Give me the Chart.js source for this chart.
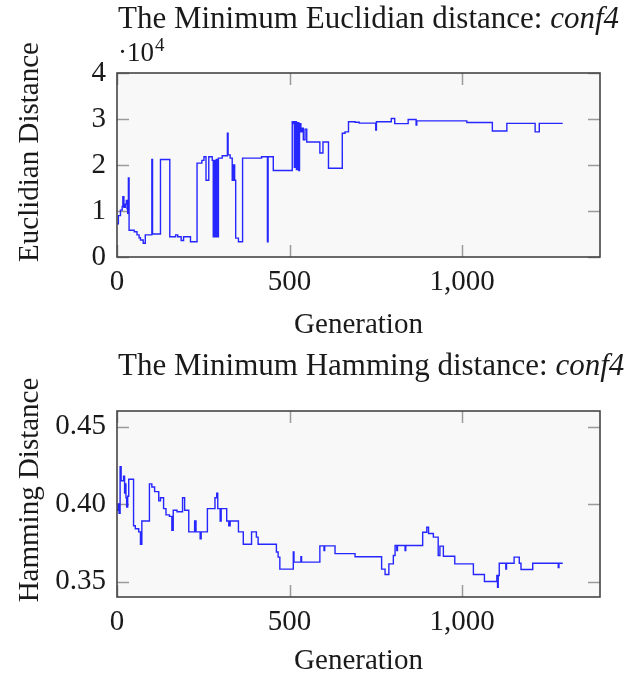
<!DOCTYPE html>
<html>
<head>
<meta charset="utf-8">
<script src="https://cdn.jsdelivr.net/npm/chart.js@4.4.1/dist/chart.umd.min.js"></script>
<style>
  html, body { margin: 0; padding: 0; background: #ffffff; }
  canvas { position: absolute; left: 0; }
  #eucCanvas { top: 0; }
  #hamCanvas { top: 340px; }
</style>
</head>
<body>
<canvas id="eucCanvas" width="640" height="340"></canvas>
<canvas id="hamCanvas" width="640" height="339"></canvas>
<script>
// Minimum Euclidian distance per generation (step series: value holds from each generation on)
const eucGen = [0, 4, 10, 15, 17, 20, 24, 27, 29, 31, 33, 35, 50, 58, 64, 68, 76, 82, 101, 103,
  126, 153, 170, 176, 186, 193, 213, 232, 246, 252, 258, 266, 276, 279, 282, 284, 288, 290, 294, 305,
  320, 322, 328, 334, 338, 341, 344, 352, 364, 419, 436, 438, 453, 508, 512, 514, 516, 520, 523, 527,
  529, 533, 537, 540, 545, 550, 588, 597, 613, 653, 661, 671, 690, 702, 750, 752, 795, 805, 844, 867,
  869, 1014, 1088, 1130, 1212, 1224, 1292];
const eucVal = [7200, 9000, 10200, 11000, 13100, 10800, 11500, 12300, 10500, 9500, 17200, 5800, 5500, 4800, 4200, 3700, 3000, 4800, 21200, 5000,
  21200, 4400, 4800, 4400, 3600, 4400, 3300, 20400, 21000, 21800, 16700, 21800, 21000, 4400, 21000, 4400, 21200, 4400, 21500, 22000,
  26900, 22200, 21500, 16700, 20000, 16700, 4100, 3300, 21500, 21800, 3300, 21800, 18800, 29400, 29000, 19500, 29400, 19000, 29200, 18800,
  29000, 27200, 28000, 25500, 27800, 25000, 22600, 25000, 19300, 26900, 27200, 29400, 29300, 29100, 27600, 29400, 30100, 29000, 29900, 28700,
  29600, 29250, 27400, 29050, 27200, 29050, 29050];

// Minimum Hamming distance per generation
const hamGen = [0, 3, 6, 9, 12, 19, 22, 24, 26, 28, 31, 34, 48, 53, 63, 68, 72, 94, 101, 109,
  121, 126, 135, 142, 152, 159, 163, 174, 190, 196, 208, 225, 229, 241, 244, 262, 284, 289, 292, 299,
  302, 318, 324, 328, 352, 366, 390, 404, 409, 462, 467, 472, 511, 513, 533, 535, 588, 600, 602, 632,
  690, 767, 777, 788, 801, 806, 811, 813, 835, 837, 886, 898, 903, 917, 931, 936, 946, 979, 1033, 1065,
  1101, 1103, 1105, 1108, 1127, 1129, 1151, 1166, 1171, 1205, 1279, 1281, 1292];
const hamVal = [0.396, 0.400, 0.394, 0.424, 0.415, 0.418, 0.407, 0.413, 0.404, 0.398, 0.405, 0.416, 0.386, 0.384, 0.382, 0.374, 0.389, 0.413, 0.411, 0.408,
  0.402, 0.404, 0.397, 0.393, 0.392, 0.383, 0.396, 0.395, 0.404, 0.396, 0.382, 0.389, 0.382, 0.3775, 0.382, 0.397, 0.404, 0.407, 0.397, 0.389,
  0.397, 0.389, 0.386, 0.389, 0.382, 0.374, 0.382, 0.3786, 0.374, 0.369, 0.3657, 0.358, 0.369, 0.3625, 0.366, 0.3625, 0.373, 0.370, 0.373, 0.368,
  0.366, 0.358, 0.3545, 0.3614, 0.3668, 0.3732, 0.370, 0.3732, 0.370, 0.3732, 0.3818, 0.385, 0.381, 0.3786, 0.3668, 0.3728, 0.3663, 0.3614, 0.3545, 0.350,
  0.3539, 0.3463, 0.3539, 0.3618, 0.358, 0.3618, 0.3657, 0.3618, 0.3577, 0.3618, 0.359, 0.3618, 0.3618];

const genTicks = [0, 500, 1000];
const eucTicks = [0, 10000, 20000, 30000, 40000];
const hamTicks = [0.35, 0.40, 0.45];

const eucTitle = ['The Minimum Euclidian distance: ', 'conf4'];
const hamTitle = ['The Minimum Hamming distance: ', 'conf4'];
const eucYLabel = 'Euclidian Distance';
const hamYLabel = 'Hamming Distance';
const xLabel = 'Generation';

const SERIF = '"Liberation Serif", "Times New Roman", serif';
const TEXT = '#1a1a1a';

function withCommas(v) {
  return String(v).replace(/\B(?=(\d{3})+(?!\d))/g, ',');
}

// Axis decorations: plot background, inward ticks on all four sides, frame, titles
function decorPlugin(cfg) {
  return {
    id: 'decor',
    beforeDatasetsDraw(chart) {
      const { ctx, chartArea: a, scales } = chart;
      ctx.save();
      ctx.fillStyle = '#f8f8f8';
      ctx.fillRect(a.left, a.top, a.right - a.left, a.bottom - a.top);
      ctx.strokeStyle = '#9a9a9a';
      ctx.lineWidth = 1.5;
      const L = 12;
      ctx.beginPath();
      scales.x.ticks.forEach(t => {
        const p = Math.round(scales.x.getPixelForValue(t.value)) + 0.5;
        ctx.moveTo(p, a.bottom); ctx.lineTo(p, a.bottom - L);
        ctx.moveTo(p, a.top); ctx.lineTo(p, a.top + L);
      });
      scales.y.ticks.forEach(t => {
        const p = Math.round(scales.y.getPixelForValue(t.value)) + 0.5;
        ctx.moveTo(a.left, p); ctx.lineTo(a.left + L, p);
        ctx.moveTo(a.right, p); ctx.lineTo(a.right - L, p);
      });
      ctx.stroke();
      ctx.restore();
    },
    afterDatasetsDraw(chart) {
      const { ctx, chartArea: a } = chart;
      ctx.save();
      ctx.strokeStyle = '#454545';
      ctx.lineWidth = 1.6;
      ctx.strokeRect(a.left, a.top, a.right - a.left, a.bottom - a.top);
      ctx.restore();
    },
    afterDraw(chart) {
      const { ctx, chartArea: a } = chart;
      ctx.save();
      ctx.fillStyle = TEXT;
      ctx.textBaseline = 'alphabetic';
      ctx.textAlign = 'left';
      // title with italic configuration name
      ctx.font = `31px ${SERIF}`;
      ctx.fillText(cfg.title[0], cfg.titleX, cfg.titleY);
      const w = ctx.measureText(cfg.title[0]).width;
      ctx.font = `italic 31px ${SERIF}`;
      ctx.fillText(cfg.title[1], cfg.titleX + w, cfg.titleY);
      // axis labels
      ctx.font = `29px ${SERIF}`;
      ctx.textAlign = 'center';
      ctx.textBaseline = 'middle';
      ctx.fillText(xLabel, (a.left + a.right) / 2, cfg.xLabelY);
      ctx.save();
      ctx.translate(cfg.yLabelX, cfg.yLabelY);
      ctx.rotate(-Math.PI / 2);
      ctx.fillText(cfg.yLabel, 0, 0);
      ctx.restore();
      // scale exponent
      if (cfg.exponent) {
        ctx.textAlign = 'left';
        ctx.textBaseline = 'alphabetic';
        ctx.font = `27px ${SERIF}`;
        ctx.fillText('\u00b710', a.left + 1, a.top - 12);
        const ew = ctx.measureText('\u00b710').width;
        ctx.font = `19px ${SERIF}`;
        ctx.fillText(cfg.exponent, a.left + 1 + ew + 1, a.top - 22);
      }
      ctx.restore();
    }
  };
}

function makeChart(id, gens, vals, yMin, yMax, yTicks, yFmt, plotTop, plotBottom, canvasH, cfg) {
  return new Chart(document.getElementById(id), {
    type: 'line',
    data: {
      datasets: [{
        data: gens.map((g, i) => ({ x: g, y: vals[i] })),
        stepped: 'before',
        borderColor: '#2626ff',
        borderWidth: 1.4,
        pointRadius: 0,
        fill: false
      }]
    },
    options: {
      responsive: false,
      devicePixelRatio: 1,
      animation: false,
      layout: { padding: { left: 0, right: 40, top: plotTop, bottom: 0 } },
      plugins: { legend: { display: false }, tooltip: { enabled: false }, title: { display: false } },
      scales: {
        x: {
          type: 'linear', min: 0, max: 1400,
          afterBuildTicks: s => { s.ticks = genTicks.map(v => ({ value: v })); },
          afterFit: s => { s.height = canvasH - plotBottom; },
          grid: { display: false, drawTicks: false },
          border: { display: false },
          ticks: { callback: v => withCommas(v), font: { family: SERIF, size: 29 }, color: TEXT, padding: 8, maxRotation: 0 }
        },
        y: {
          type: 'linear', min: yMin, max: yMax,
          afterBuildTicks: s => { s.ticks = yTicks.map(v => ({ value: v })); },
          afterFit: s => { s.width = 117; },
          grid: { display: false, drawTicks: false },
          border: { display: false },
          ticks: { callback: yFmt, font: { family: SERIF, size: 29 }, color: TEXT, padding: 11 }
        }
      }
    },
    plugins: [decorPlugin(cfg)]
  });
}

makeChart('eucCanvas', eucGen, eucVal, 0, 40000, eucTicks, v => String(v / 10000), 73, 257, 340, {
  title: eucTitle, titleX: 118, titleY: 28, yLabel: eucYLabel, yLabelX: 30, yLabelY: 152, xLabelY: 325, exponent: '4'
});
makeChart('hamCanvas', hamGen, hamVal, 0.34, 0.46, hamTicks, v => v.toFixed(2), 71, 257, 339, {
  title: hamTitle, titleX: 118, titleY: 35, yLabel: hamYLabel, yLabelX: 30, yLabelY: 150, xLabelY: 321, exponent: null
});
</script>
</body>
</html>
